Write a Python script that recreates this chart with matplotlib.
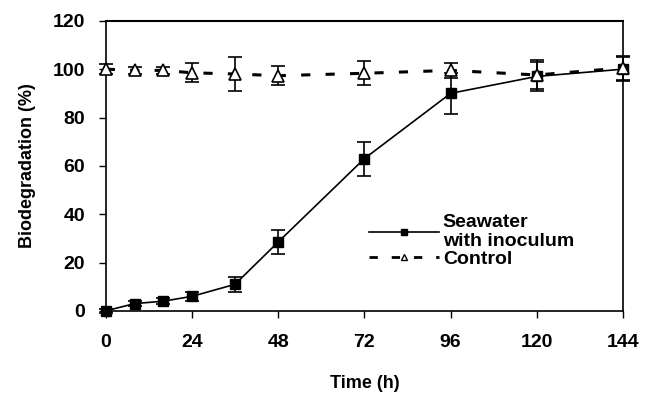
import matplotlib
matplotlib.use('Agg')
import matplotlib.pyplot as plt
from matplotlib.lines import Line2D

# ---- data -----------------------------------------------------------------
time_h = [0, 8, 16, 24, 36, 48, 72, 96, 120, 144]

seawater     = [0, 3.0, 4.0, 6.0, 11.0, 28.5, 63.0, 90.0, 97.0, 100.0]
seawater_err = [0.8, 1.0, 1.2, 2.0, 3.0, 4.8, 7.0, 8.5, 6.0, 5.0]

control      = [100, 99.5, 99.5, 98.5, 98.0, 97.3, 98.3, 99.5, 97.6, 100.5]
control_err  = [2.0, 1.5, 1.5, 4.0, 7.0, 4.0, 5.0, 3.0, 6.0, 5.0]

x_ticks = [0, 24, 48, 72, 96, 120, 144]
y_ticks = [0, 20, 40, 60, 80, 100, 120]

# ---- figure ---------------------------------------------------------------
plt.rcParams['font.family'] = ['Liberation Sans', 'DejaVu Sans']
plt.rcParams['font.weight'] = 'bold'

fig = plt.figure(figsize=(6.45, 3.93), dpi=100)
ax = fig.add_axes([0.164, 0.209, 0.802, 0.738])

dash = (0, (3, 5))
c = ax.errorbar(time_h, control, yerr=control_err, color='black', linestyle=dash,
                linewidth=2.2, marker='^', markersize=8, markerfacecolor='white',
                markeredgecolor='black', markeredgewidth=1.2, capsize=5, elinewidth=1.2,
                capthick=1.2, zorder=3)
s = ax.errorbar(time_h, seawater, yerr=seawater_err, color='black', linestyle='-',
                linewidth=1.2, marker='s', markersize=7, markerfacecolor='black',
                markeredgecolor='black', capsize=5, elinewidth=1.2, capthick=1.2,
                zorder=2)
for cont in (c, s):
    for art in [cont.lines[0], *cont.lines[1], *cont.lines[2]]:
        art.set_clip_on(False)

ax.set_xlim(0, 144)
ax.set_ylim(0, 120)
ax.set_xticks(x_ticks)
ax.set_yticks(y_ticks)
ax.tick_params(direction='out', length=5, width=1, labelsize=14)
ax.tick_params(axis='x', pad=12)
ax.tick_params(axis='y', pad=10)
ax.set_xlabel('Time (h)', fontsize=13, fontweight='bold', labelpad=17)
ax.set_ylabel('Biodegradation (%)', fontsize=13, fontweight='bold', labelpad=12)
for sp in ax.spines.values():
    sp.set_linewidth(1.2)
ax.spines['top'].set_linewidth(1.5)

h_sea = Line2D([], [], color='black', linewidth=1.2, marker='s', markersize=5)
h_ctl = Line2D([], [], color='black', linewidth=2.0, linestyle=dash, marker='^',
               markersize=5, markerfacecolor='white', markeredgewidth=1.0)
leg = ax.legend([h_sea, h_ctl], ['Seawater\nwith inoculum', 'Control'],
                loc='lower left', bbox_to_anchor=(0.49, 0.115),
                frameon=False, fontsize=14, handlelength=3.6, handletextpad=0.2,
                labelspacing=0.0, numpoints=1, borderpad=0)

fig.savefig('out.png', dpi=100)
